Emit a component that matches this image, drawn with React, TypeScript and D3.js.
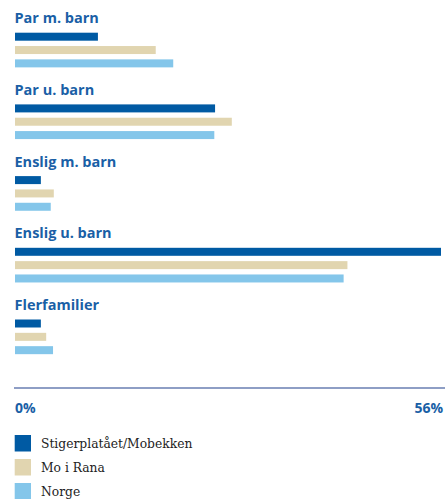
import React from "react";
import * as d3 from "d3";

const categories = ["Par m. barn", "Par u. barn", "Enslig m. barn", "Enslig u. barn", "Flerfamilier"];
const seriesNames = ["Stigerplatået/Mobekken", "Mo i Rana", "Norge"];
const stigerplataet = [10.9, 26.3, 3.4, 56.0, 3.4];
const moIRana = [18.5, 28.5, 5.1, 43.7, 4.1];
const norge = [20.8, 26.2, 4.7, 43.2, 5.0];
const seriesColors = ["#005aa3", "#e1d5b0", "#84c6ea"];
const tickLabels = ["0%", "56%"];
const xMax = 56;

const W = 448;
const H = 499;

export default function App() {
  const values = [stigerplataet, moIRana, norge];
  const x = d3.scaleLinear().domain([0, xMax]).range([15, 441]);
  const group = d3.scaleBand<string>().domain(categories).range([0, 5 * 71.7]);
  const inner = d3
    .scaleBand<string>()
    .domain(seriesNames)
    .range([0, 34.67])
    .paddingInner(0.4)
    .paddingOuter(0);

  const labelFont = "'Open Sans', 'DejaVu Sans', sans-serif";
  const titleColor = "#1a5fa6";

  return (
    <svg
      width={W}
      height={H}
      style={{ position: "absolute", left: 0, top: 0, background: "#fff" }}
    >
      {categories.map((cat, ci) => {
        const gy = group(cat) as number;
        return (
          <g key={cat} transform={`translate(0,${gy})`}>
            <text
              x={14.5}
              y={23.3}
              fontFamily={labelFont}
              fontWeight={700}
              fontSize={14.5}
              fill={titleColor}
            >
              {cat}
            </text>
            {seriesNames.map((s, si) => (
              <rect
                key={s}
                x={x(0)}
                y={32.7 + (inner(s) as number)}
                width={x(values[si][ci]) - x(0)}
                height={inner.bandwidth()}
                fill={seriesColors[si]}
              />
            ))}
          </g>
        );
      })}

      <line x1={14} x2={445} y1={388} y2={388} stroke="#1f3f8c" strokeWidth={1.2} />
      <text
        x={x(0)}
        y={413}
        fontFamily={labelFont}
        fontWeight={700}
        fontSize={14}
        fill={titleColor}
      >
        {tickLabels[0]}
      </text>
      <text
        x={443}
        y={413}
        textAnchor="end"
        fontFamily={labelFont}
        fontWeight={700}
        fontSize={14}
        fill={titleColor}
      >
        {tickLabels[1]}
      </text>

      {seriesNames.map((s, si) => (
        <g key={s} transform={`translate(0,${435 + si * 24})`}>
          <rect x={14.7} y={0} width={16.3} height={16.5} fill={seriesColors[si]} />
          <text
            x={41}
            y={12.5}
            fontFamily="'DejaVu Serif', serif"
            fontSize={12.3}
            fill="#222"
          >
            {s}
          </text>
        </g>
      ))}
    </svg>
  );
}
